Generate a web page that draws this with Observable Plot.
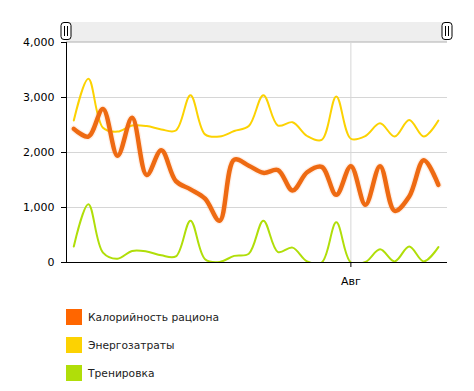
<!DOCTYPE html>
<html>
<head>
<meta charset="utf-8">
<script src="https://cdn.jsdelivr.net/npm/d3@7"></script>
<script src="https://cdn.jsdelivr.net/npm/@observablehq/plot@0.6"></script>
<style>
  html, body { margin: 0; padding: 0; background: #fff; }
  #wrap { position: relative; width: 474px; height: 391px; font-family: "DejaVu Sans", Verdana, sans-serif; }
  #legend { position: absolute; left: 66px; top: 309px; }
  .item { display: flex; align-items: center; height: 16px; margin-bottom: 12px; font-size: 10.7px; color: #222; }
  .sw { width: 16px; height: 16px; margin-right: 6px; }
</style>
</head>
<body>
<div id="wrap"><div id="chart"></div><div id="legend"></div></div>
<script>
const dates = ["2013-06-24","2013-06-26","2013-06-28","2013-06-30","2013-07-02","2013-07-04","2013-07-06","2013-07-08","2013-07-10","2013-07-12","2013-07-14","2013-07-16","2013-07-18","2013-07-20","2013-07-22","2013-07-24","2013-07-26","2013-07-28","2013-07-30","2013-08-01","2013-08-03","2013-08-05","2013-08-07","2013-08-09","2013-08-11","2013-08-13"];
const calories = [2430,2290,2790,1940,2630,1590,2040,1480,1330,1160,760,1870,1760,1630,1680,1310,1640,1740,1230,1750,1050,1750,940,1200,1860,1410];
const energy   = [2580,3340,2450,2380,2490,2480,2420,2400,3040,2330,2290,2390,2480,3040,2490,2550,2300,2230,3020,2250,2300,2530,2290,2590,2290,2580];
const training = [290,1060,180,70,210,200,130,110,760,60,10,120,160,760,190,270,20,0,730,0,10,240,20,290,20,280];
const seriesNames = ["Калорийность рациона","Энергозатраты","Тренировка"];
const seriesColors = ["#FF6600","#FCD202","#B0DE09"];
const yTicks = [0,1000,2000,3000,4000];
const xTickDates = ["2013-08-01"];
const xTickLabels = ["Авг"];
const xDomainDates = ["2013-06-23T00:00:00Z","2013-08-14T06:00:00Z"];

const parse = s => new Date(s.length === 10 ? s + "T00:00:00Z" : s);
const seriesValues = [calories, energy, training];
const rows = [];
seriesNames.forEach((name, i) => {
  dates.forEach((d, j) => rows.push({series: name, date: parse(d), value: seriesValues[i][j]}));
});
const xTicks = xTickDates.map(parse);
const xDomain = xDomainDates.map(parse);

const plot = Plot.plot({
  width: 474, height: 300,
  marginTop: 42, marginLeft: 66, marginRight: 27, marginBottom: 38,
  style: {fontFamily: "'DejaVu Sans', Verdana, sans-serif", fontSize: "11px", color: "#000", background: "#fff"},
  x: {type: "utc", domain: xDomain},
  y: {domain: [0, 4000]},
  color: {domain: seriesNames, range: seriesColors},
  marks: [
    Plot.ruleY(yTicks.slice(1), {stroke: "#d6d6d6"}),
    Plot.ruleX(xTicks, {stroke: "#d6d6d6"}),
    Plot.line(rows.filter(r => r.series === seriesNames[1]), {x: "date", y: "value", stroke: "series", strokeWidth: 2, curve: "catmull-rom", clip: true}),
    Plot.line(rows.filter(r => r.series === seriesNames[2]), {x: "date", y: "value", stroke: "series", strokeWidth: 2, curve: "catmull-rom", clip: true}),
    Plot.line(rows.filter(r => r.series === seriesNames[0]), {x: "date", y: "value", stroke: "series", strokeWidth: 7, strokeOpacity: 0.1, curve: "catmull-rom", clip: true}),
    Plot.line(rows.filter(r => r.series === seriesNames[0]), {x: "date", y: "value", stroke: "#EE6A12", strokeWidth: 4.5, curve: "catmull-rom", clip: true}),
    Plot.ruleY([0], {stroke: "#000"}),
    Plot.ruleX([xDomain[0]], {stroke: "#000"}),
    Plot.axisY({ticks: yTicks, tickFormat: d3.format(","), tickSize: 5, tickPadding: 7, label: null}),
    Plot.axisX({ticks: xTicks, tickFormat: (d, i) => xTickLabels[i], tickSize: 5, tickPadding: 10, label: null})
  ]
});
document.getElementById("chart").appendChild(plot);

// scrollbar decoration on top of the plot area
const xs = plot.scale("x");
const x0 = xs.range[0], x1 = xs.range[1];
const svg = d3.select(plot);
svg.append("rect").attr("x", x0).attr("y", 22).attr("width", x1 - x0).attr("height", 20).attr("fill", "#eeeeee");
svg.append("line").attr("x1", x0).attr("x2", x1).attr("y1", 41.5).attr("y2", 41.5).attr("stroke", "#d0d0d0");
[x0, x1].forEach(cx => {
  const g = svg.append("g");
  g.append("rect").attr("x", cx - 5).attr("y", 22.5).attr("width", 10).attr("height", 17).attr("rx", 3).attr("fill", "#fff").attr("stroke", "#000");
  g.append("line").attr("x1", cx - 1.5).attr("x2", cx - 1.5).attr("y1", 26).attr("y2", 36).attr("stroke", "#000");
  g.append("line").attr("x1", cx + 1.5).attr("x2", cx + 1.5).attr("y1", 26).attr("y2", 36).attr("stroke", "#000");
});

const legend = d3.select("#legend");
seriesNames.forEach((n, i) => {
  const it = legend.append("div").attr("class", "item");
  it.append("div").attr("class", "sw").style("background", seriesColors[i]);
  it.append("span").text(n);
});
</script>
</body>
</html>
